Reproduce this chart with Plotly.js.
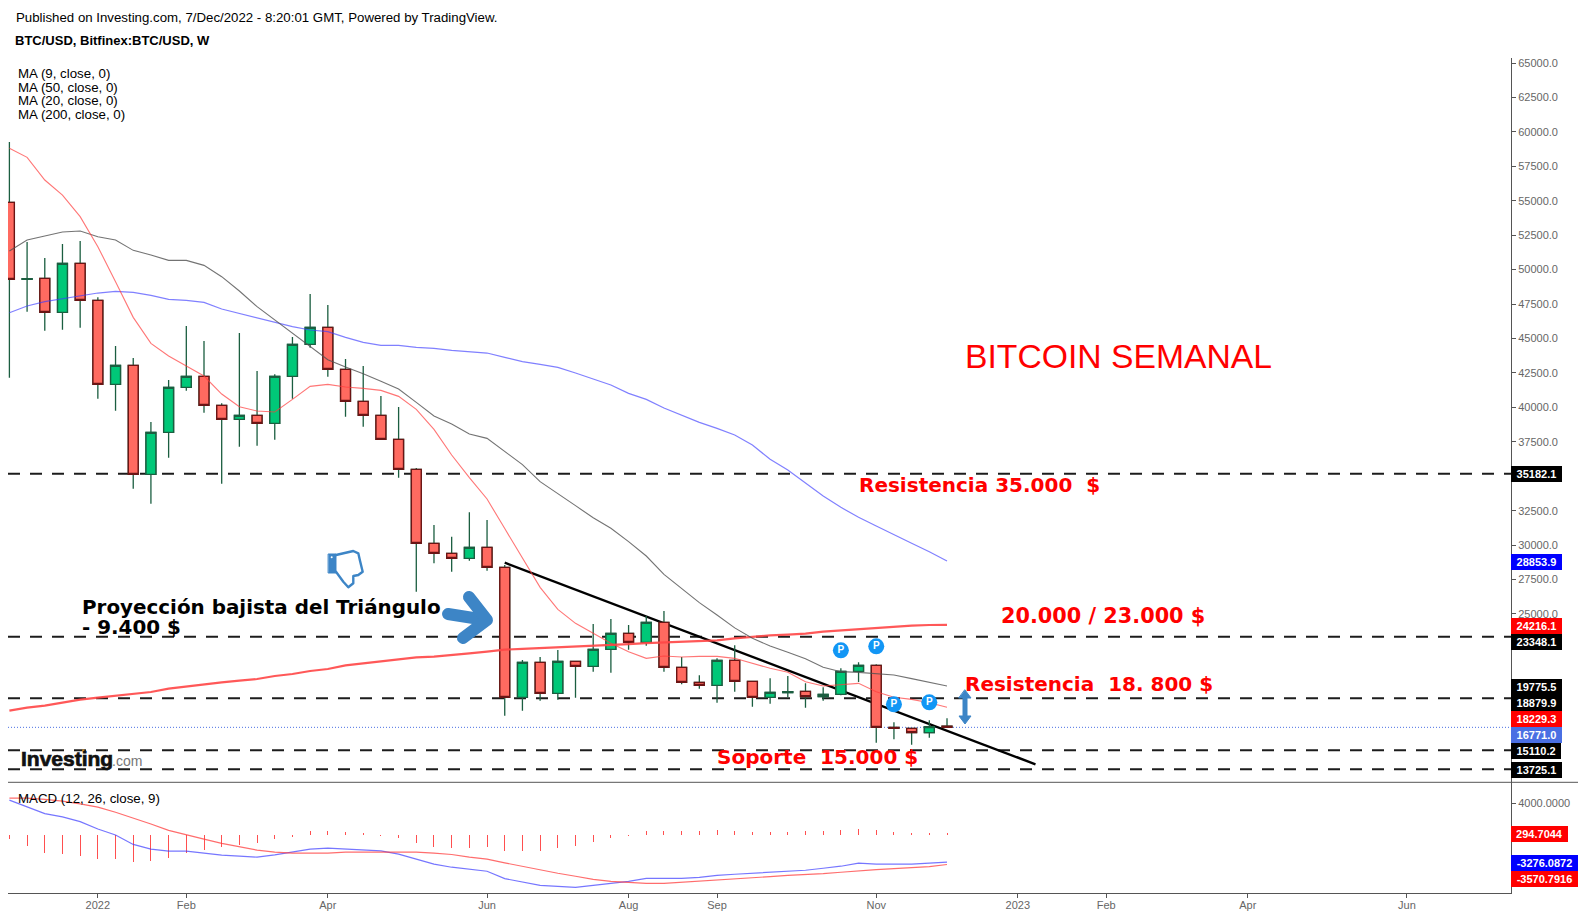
<!DOCTYPE html>
<html><head><meta charset="utf-8">
<script src="https://cdn.plot.ly/plotly-3.0.1.min.js"></script>
<style>html,body{margin:0;padding:0;background:#fff}#c{width:1585px;height:917px}</style>
</head><body><div id="c"></div>
<script>
const dates=["2021-11-29","2021-12-06","2021-12-13","2021-12-20","2021-12-27","2022-01-03","2022-01-10","2022-01-17","2022-01-24","2022-01-31","2022-02-07","2022-02-14","2022-02-21","2022-02-28","2022-03-07","2022-03-14","2022-03-21","2022-03-28","2022-04-04","2022-04-11","2022-04-18","2022-04-25","2022-05-02","2022-05-09","2022-05-16","2022-05-23","2022-05-30","2022-06-06","2022-06-13","2022-06-20","2022-06-27","2022-07-04","2022-07-11","2022-07-18","2022-07-25","2022-08-01","2022-08-08","2022-08-15","2022-08-22","2022-08-29","2022-09-05","2022-09-12","2022-09-19","2022-09-26","2022-10-03","2022-10-10","2022-10-17","2022-10-24","2022-10-31","2022-11-07","2022-11-14","2022-11-21","2022-11-28","2022-12-05"];
const opens=[54885,49300,49367,46899,50456,47770,41671,43051,35137,38187,41454,42252,40147,39130,39421,38840,42252,44575,45810,42760,40437,39421,37678,35500,30130,29404,29041,29840,28388,18950,21491,19240,21563,21200,22434,23596,22943,24395,21128,20039,19821,21636,20111,18950,19300,19385,18998,19167,20837,21273,16772,16699,16384,16850];
const closes=[49294,49340,46899,50456,47770,41671,43051,35137,38187,41454,42252,40147,39130,39421,38840,42252,44575,45810,42760,40437,39421,37678,35500,30130,29404,29041,29840,28388,18950,21491,19240,21563,21200,22434,23596,22943,24395,21128,20039,19821,21636,20111,18950,19313,19361,18998,19167,20837,21273,16772,16699,16384,16820,16771];
const highs=[59265,52005,50843,51860,52077,47988,44454,43583,38937,41986,45906,44817,40292,45398,42640,42397,45108,48230,47431,43511,43003,40824,40026,35600,31459,30600,32379,31821,28557,21660,21878,22386,21600,24274,24637,24201,24854,25217,21878,20547,21781,22725,20150,20329,20498,19966,19676,21055,21491,21345,17135,16720,17280,17425];
const lows=[42155,46947,45568,45640,45785,40631,39760,34097,33008,36347,41212,39614,34460,37146,37218,37654,40631,44333,42228,39324,38598,37650,34895,26618,28678,28073,28872,28146,17619,17982,18708,18780,18925,20813,20740,22410,22701,20813,19893,19579,18562,19361,18272,18490,18950,18199,18708,19100,20063,15658,15900,15513,16022,16771];
const ma9=[58805,58152,56506,55417,53844,51666,49125,46536,44648,43728,43002,42276,40970,40050,39735,39663,40582,41526,41671,41478,41381,41236,40800,39856,38404,36541,34895,33347,31200,29041,26936,25338,24322,23596,22870,22265,21781,21950,21878,21926,21926,21781,21418,21055,20765,20087,19772,19869,19966,19361,18950,18804,18562,18229];
const ma20=[51351,52150,52440,52731,52803,52392,52150,51400,51061,50674,50674,50311,49488,48447,47310,46342,45398,44406,43462,42930,42446,41889,41333,40365,39372,38792,38066,37751,36785,35841,34607,33712,32865,31993,31219,30251,29210,27879,26815,25822,24927,23990,23233,22676,22217,21757,21128,20813,20765,20644,20571,20305,20014,19775];
const ma50=[46874,47358,47673,47891,48109,48302,48423,48351,48133,47842,47770,47625,47141,46826,46463,46197,45858,45616,45495,45084,44721,44503,44503,44358,44285,44140,44019,43946,43634,43319,43125,42908,42496,42085,41625,41020,40584,39955,39447,38915,38479,37995,37269,36228,35454,34486,33566,32744,32018,31388,30735,30130,29525,28854];
const ma200=[17982,18199,18345,18562,18780,18925,19071,19192,19337,19579,19748,19893,20039,20160,20281,20498,20644,20863,21007,21273,21418,21539,21684,21854,21902,22047,22144,22265,22410,22470,22520,22580,22640,22700,22749,22810,22880,22943,22990,23040,23088,23233,23354,23451,23500,23572,23717,23814,23911,23983,24080,24153,24201,24216];
const macdLine=[4410,3578,2746,2330,1747,832,83,-1082,-1664,-1914,-1914,-2163,-2413,-2538,-2662,-2371,-2038,-1664,-1539,-1664,-1789,-1872,-2288,-2912,-3536,-3910,-4160,-4410,-5325,-5782,-6157,-6282,-6406,-6157,-5907,-5658,-5283,-5283,-5283,-5158,-4909,-4784,-4659,-4534,-4410,-4285,-4035,-3786,-3411,-3536,-3536,-3536,-3411,-3276];
const signalLine=[4659,4659,4493,4285,3952,3536,2912,2205,1456,666,83,-416,-957,-1414,-1789,-2038,-2163,-2163,-2163,-2038,-2038,-2038,-2038,-2038,-2163,-2330,-2662,-2912,-3370,-3827,-4285,-4659,-5034,-5408,-5658,-5782,-5907,-5907,-5782,-5658,-5533,-5408,-5200,-5075,-4909,-4826,-4701,-4534,-4326,-4202,-4077,-3952,-3827,-3571];
const histogram=[-499,-1373,-2122,-2246,-2496,-2870,-2870,-3245,-3120,-2746,-2122,-1872,-1498,-1248,-998,-499,-208,499,499,374,250,-42,-374,-998,-1498,-1622,-1622,-1498,-1997,-1997,-1997,-1622,-1373,-874,-374,-83,499,499,499,499,624,499,374,374,374,499,499,624,749,624,374,250,250,295];
const levels=[35182.1,23348.1,18879.9,15110.2,13725.1];
const lastPrice=16771.0;
const trendDates=["2022-06-13","2023-01-09"];
const trendValues=[28724,14088];
const pivotDates=["2022-10-24","2022-11-07","2022-11-14","2022-11-28"];
const pivotValues=[22364,22655,18444,18589];
const xTickDates=["2022-01-03","2022-02-07","2022-04-04","2022-06-06","2022-08-01","2022-09-05","2022-11-07","2023-01-02","2023-02-06","2023-04-03","2023-06-05"];
const xTickText=["2022","Feb","Apr","Jun","Aug","Sep","Nov","2023","Feb","Apr","Jun"];
const yTickVals=[65000,62500,60000,57500,55000,52500,50000,47500,45000,42500,40000,37500,35000,32500,30000,27500,25000,22500];
const yTickText=["65000.0","62500.0","60000.0","57500.0","55000.0","52500.0","50000.0","47500.0","45000.0","42500.0","40000.0","37500.0","","32500.0","30000.0","27500.0","25000.0",""];
const priceTags=[["28853.9","#0000ff",562,51],["24216.1","#ff0000",626,51],["23348.1","#000000",642,51],["19775.5","#000000",687.3,51],["18879.9","#000000",703.3,51],["18229.3","#ff0000",719.3,51],["16771.0","#4a6fe3",735.3,51],["15110.2","#000000",751.3,50],["13725.1","#000000",770,51],["35182.1","#000000",473.7,51],["294.7044","#ff0000",834,57],["-3276.0872","#0000ff",863.3,67],["-3570.7916","#ff0000",879.3,67]];

const W=1585,H=917,L=8,R=1511,T=58,B=893,SEP=782.3;
const px=x=>(x-L)/(R-L), py=y=>(B-y)/(B-T);
const P=(x,y)=>px(x).toFixed(5)+' '+py(y).toFixed(5);
const base=Date.UTC(2021,10,29), wk=7*864e5;
const iso=i=>new Date(base+i*wk).toISOString().slice(0,19).replace('T',' ');
const SANS='"Liberation Sans", Arial, sans-serif', DJ='"DejaVu Sans", Verdana, sans-serif';
const UP='#00c878',DN='#ff6a60',UPB='#1b5e40',DNB='#6b1414',ARROW='#3d85c6';

const line=(y,color,width,yaxis)=>({type:'scatter',mode:'lines',x:dates,y,yaxis:yaxis||'y',line:{color,width,shape:'linear'},hoverinfo:'skip'});
const traces=[
 line(ma200,'rgba(255,70,70,0.9)',2.2),
 line(ma50,'rgba(60,60,255,0.65)',1.2),
 line(ma20,'rgba(80,80,80,0.8)',1.1),
 line(ma9,'rgba(255,60,60,0.7)',1.1),
 {type:'candlestick',x:dates,open:opens,high:highs,low:lows,close:closes,whiskerwidth:0,
  increasing:{line:{color:UPB,width:1.3},fillcolor:UP},decreasing:{line:{color:UPB,width:1.3},fillcolor:DN},hoverinfo:'skip'},
 {type:'candlestick',x:dates,open:opens,close:closes,
  high:opens.map((o,i)=>Math.max(o,closes[i])),low:opens.map((o,i)=>Math.min(o,closes[i])),whiskerwidth:0,
  increasing:{line:{color:UPB,width:1.4},fillcolor:UP},decreasing:{line:{color:DNB,width:1.4},fillcolor:DN},hoverinfo:'skip'},
 {type:'scatter',mode:'markers+text',x:pivotDates,y:pivotValues,text:pivotDates.map(()=> 'P'),textposition:'middle center',
  textfont:{family:SANS,size:10,color:'#fff',weight:700},marker:{size:16,color:'#1296f5'},hoverinfo:'skip'},
 {type:'bar',x:dates,y:histogram,yaxis:'y2',width:dates.map(()=>wk*0.0566),marker:{color:'rgba(255,70,70,0.95)',line:{width:0}},hoverinfo:'skip'},
 line(macdLine,'rgba(60,60,255,0.7)',1.2,'y2'),
 line(signalLine,'rgba(255,60,60,0.75)',1.2,'y2')
];

const shapes=[];
levels.forEach(v=>shapes.push({type:'line',xref:'paper',yref:'y',x0:0,x1:1,y0:v,y1:v,layer:'below',line:{color:'#1c1c1c',width:2,dash:'12px,10px'}}));
shapes.push({type:'line',xref:'paper',yref:'y',x0:0,x1:1,y0:lastPrice,y1:lastPrice,layer:'below',line:{color:'#4a6fe3',width:1,dash:'1px,2px'}});
shapes.push({type:'line',xref:'x',yref:'y',x0:trendDates[0],x1:trendDates[1],y0:trendValues[0],y1:trendValues[1],layer:'below',line:{color:'#000',width:2.4}});
shapes.push({type:'line',xref:'paper',yref:'paper',x0:0,x1:px(1578),y0:py(SEP),y1:py(SEP),line:{color:'#555',width:1}});
const stroke=(d,w)=>({type:'path',xref:'paper',yref:'paper',path:d,line:{color:ARROW,width:w}});
shapes.push(stroke('M'+P(448,614)+' L'+P(486,620),12));
shapes.push(stroke('M'+P(469,597)+' L'+P(487,620)+' L'+P(463,638),12));
shapes.push({type:'path',xref:'paper',yref:'paper',fillcolor:ARROW,line:{color:ARROW,width:1},
 path:'M'+P(965,690)+' L'+P(971,698)+' L'+P(967,698)+' L'+P(967,716)+' L'+P(971,716)+' L'+P(965,724)+' L'+P(959,716)+' L'+P(963,716)+' L'+P(963,698)+' L'+P(959,698)+' Z'});
shapes.push({type:'path',xref:'paper',yref:'paper',fillcolor:ARROW,line:{color:ARROW,width:1},
 path:'M'+P(328.5,554)+' L'+P(336,554)+' L'+P(336,573)+' L'+P(328.5,573)+' Z'});
shapes.push({type:'circle',xref:'paper',yref:'paper',x0:px(330.7),x1:px(332.7),y0:py(558.3),y1:py(556.3),fillcolor:'#fff',line:{width:0}});
shapes.push(stroke('M'+P(336,555)+' L'+P(353.3,551)+' L'+P(358.3,553.3)+' L'+P(360,560.7)+' L'+P(362.7,571.7)+' L'+P(358.3,575)+' L'+P(353.3,576)+' L'+P(353.3,583.3)+' L'+P(348.3,587.3)+' L'+P(343.3,581.7)+' L'+P(336,571.7),2.4));
shapes.push({type:'rect',xref:'paper',yref:'paper',x0:px(82.3),x1:px(84.3),y0:py(751.5),y1:py(749.5),fillcolor:'#f5a623',line:{width:0}});

const note=(text,x,y,size,color,family,extra)=>Object.assign({xref:'paper',yref:'paper',x:px(x),y:py(y),xanchor:'left',yanchor:'middle',showarrow:false,text,
  font:{family:family||SANS,size,color:color||'#000'}},extra||{});
const annotations=[
 note('Published on Investing.com, 7/Dec/2022 - 8:20:01 GMT, Powered by TradingView.',14,17.5,13.25),
 note('<b>BTC/USD, Bitfinex:BTC/USD, W</b>',13,41,13),
 note('MA (9, close, 0)',16,74,13.3),
 note('MA (50, close, 0)',16,87.5,13.3),
 note('MA (20, close, 0)',16,100.5,13.3),
 note('MA (200, close, 0)',16,114.5,13.3),
 note('MACD (12, 26, close, 9)',16,798,13.3),
 note('BITCOIN SEMANAL',963,355.5,33.7,'#ff0000'),
 note('<b>Resistencia 35.000 \u00a0$</b>',857,485,20,'#ff0000',DJ),
 note('<b>20.000 / 23.000 $</b>',999,616,20.8,'#ff0000',DJ),
 note('<b>Resistencia \u00a018. 800 $</b>',963,684,20,'#ff0000',DJ),
 note('<b>Soporte \u00a015.000 $</b>',715,757,20,'#ff0000',DJ),
 note('<b>Proyección bajista del Triángulo</b>',80,607,19.9,'#000',DJ),
 note('<b>- 9.400 $</b>',80,627,19.9,'#000',DJ),
 note('<b>Investing</b>',19,758,21,'#111'),
 note('.com',110,761,14,'#777')
];
priceTags.forEach(t=>annotations.push(Object.assign(note('<b>'+t[0]+'</b>',R,t[2],11,'#fff'),{width:t[3],height:16,bgcolor:t[1],align:'center',borderpad:0,borderwidth:0})));

const axisStyle={showline:true,linecolor:'#555',linewidth:1,ticks:'outside',ticklen:4,tickcolor:'#555',showgrid:false,zeroline:false,
  tickfont:{family:SANS,size:11,color:'#666'}};
const layout={width:W,height:H,margin:{l:L,r:W-R,t:T,b:H-B,pad:0},paper_bgcolor:'#fff',plot_bgcolor:'rgba(0,0,0,0)',showlegend:false,hovermode:false,
 boxmode:'overlay',boxgap:0.44,boxgroupgap:0,bargap:0,barmode:'overlay',dragmode:false,
 xaxis:Object.assign({},axisStyle,{type:'date',range:[iso(-0.079),iso(84.88)],anchor:'y2',tickmode:'array',tickvals:xTickDates,ticktext:xTickText,rangeslider:{visible:false},fixedrange:true,ticklabelstandoff:-2}),
 yaxis:Object.assign({},axisStyle,{domain:[py(SEP),1],side:'right',anchor:'x',range:[12781,65365],tickmode:'array',tickvals:yTickVals,ticktext:yTickText,fixedrange:true}),
 yaxis2:Object.assign({},axisStyle,{domain:[0,py(SEP)],side:'right',anchor:'x',range:[-7107,6621],tickmode:'array',tickvals:[4000],ticktext:['4000.0000'],fixedrange:true}),
 shapes,annotations};
Plotly.newPlot('c',traces,layout,{displayModeBar:false}).then(()=>{
  document.querySelectorAll('.shapelayer path').forEach(p=>{
    if(p.style.stroke && p.style.stroke.indexOf('61, 133, 198')>=0){p.style.strokeLinecap='round';p.style.strokeLinejoin='round';}
  });
  document.querySelectorAll('.annotation-text').forEach(t=>{
    if(t.textContent==='Investing'){t.style.stroke='#111';t.style.strokeWidth='0.7px';}
  });
});
</script></body></html>
